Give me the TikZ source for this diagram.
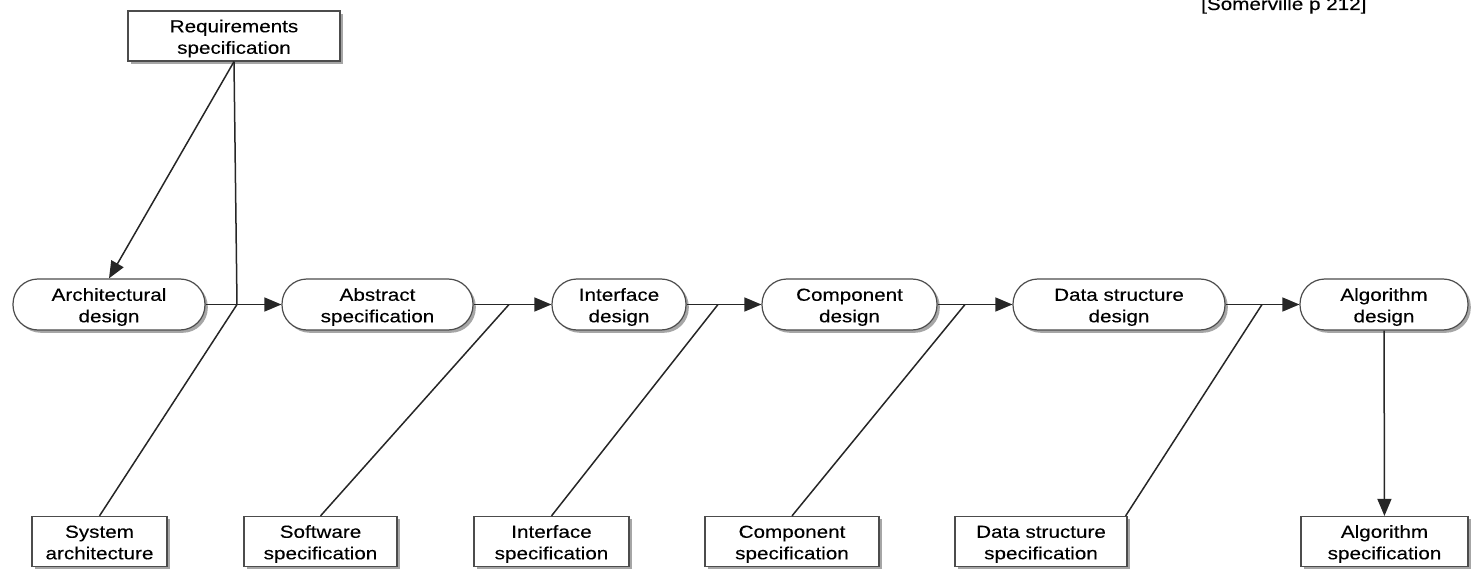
\documentclass[tikz,border=0pt]{standalone}
\usepackage{fontspec}
\setmainfont{Liberation Sans}[FakeStretch=1.18,FakeBold=0.2]
\usetikzlibrary{arrows.meta,shadows}
\begin{document}
\begin{tikzpicture}[x=1pt,y=-1pt,
  every node/.style={font=\fontsize{17.5}{21.5}\selectfont, align=center, inner sep=0pt},
  lbl/.style={text height=38pt, text depth=2.4pt},
  shad/.style={drop shadow={shadow xshift=2.8pt, shadow yshift=-2.8pt, fill=black!50, opacity=0.7}},
  specbox/.style={lbl, draw=black!70, line width=1.2pt, fill=white, minimum height=50pt, shad},
  designbox/.style={lbl, draw=black!70, line width=1.2pt, fill=white, minimum height=51pt, rounded corners=25pt, shad},
  conn/.style={draw=black!85, line width=1.5pt},
  arr/.style={conn, -{Triangle[length=17pt,width=14pt]}}
]
\useasboundingbox (0,0) rectangle (1474,569);

\node[specbox, minimum width=212pt] (req) at (234,36) {Requirements\\specification};
\node[anchor=base west] (som) at (1201,10) {[Somerville p 212]};

\node[designbox, minimum width=192pt] (arch) at (109,304.5) {Architectural\\design};
\node[designbox, minimum width=191pt] (abs)  at (377.5,304.5) {Abstract\\specification};
\node[designbox, minimum width=134pt] (intf) at (619,304.5) {Interface\\design};
\node[designbox, minimum width=175pt] (comp) at (849.5,304.5) {Component\\design};
\node[designbox, minimum width=212pt] (dsd)  at (1119,304.5) {Data structure\\design};
\node[designbox, minimum width=168pt] (algd) at (1384,304.5) {Algorithm\\design};

\node[specbox, minimum width=135pt] (sys) at (99.5,541.5) {System\\architecture};
\node[specbox, minimum width=153pt] (sw)  at (320.5,541.5) {Software\\specification};
\node[specbox, minimum width=155pt] (ifs) at (551.5,541.5) {Interface\\specification};
\node[specbox, minimum width=174pt] (cs)  at (792,541.5) {Component\\specification};
\node[specbox, minimum width=172pt] (dss) at (1041,541.5) {Data structure\\specification};
\node[specbox, minimum width=167pt] (als) at (1384.5,541.5) {Algorithm\\specification};

\coordinate (j1) at (237,304.5);
\coordinate (j2) at (509,304.5);
\coordinate (j3) at (718,304.5);
\coordinate (j4) at (965,304.5);
\coordinate (j5) at (1262,304.5);

\draw[arr] (req.south) -- (arch.north);
\draw[conn] (req.south) -- (j1);
\draw[arr] (arch) -- (abs);
\draw[arr] (abs) -- (intf);
\draw[arr] (intf) -- (comp);
\draw[arr] (comp) -- (dsd);
\draw[arr] (dsd) -- (algd);
\draw[arr] (algd) -- (als);

\draw[conn] (j1) -- (sys.north);
\draw[conn] (j2) -- (sw.north);
\draw[conn] (j3) -- (ifs.north);
\draw[conn] (j4) -- (cs.north);
\draw[conn] (j5) -- ([xshift=-2pt]dss.north east);
\end{tikzpicture}
\end{document}
